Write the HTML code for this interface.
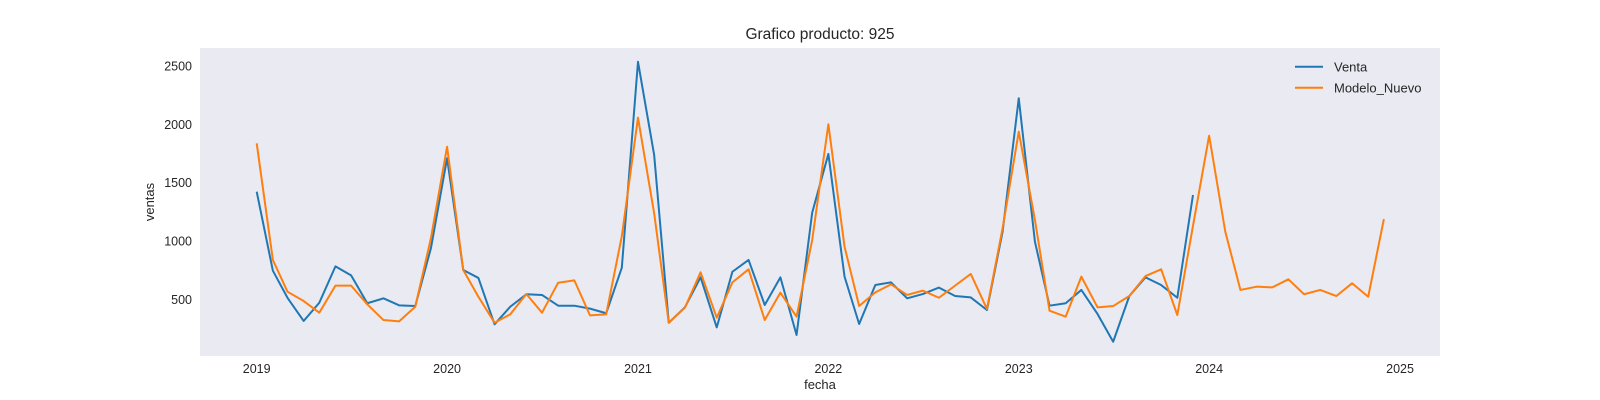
<!DOCTYPE html>
<html><head><meta charset="utf-8"><style>
html,body{margin:0;padding:0;background:#fff;}
svg{display:block;font-family:"Liberation Sans",sans-serif;}
</style></head><body>
<svg id="chart" width="1600" height="400" viewBox="0 0 1600 400">
<rect x="200" y="48" width="1240" height="308" fill="#eaeaf2"/>
<text x="820" y="39" text-anchor="middle" font-size="15.5" fill="#262626">Grafico producto: 925</text>
<text x="820" y="389" text-anchor="middle" font-size="13" fill="#262626">fecha</text>
<text transform="translate(154,202) rotate(-90)" text-anchor="middle" font-size="13" fill="#262626">ventas</text>
<g id="yticks"></g><g id="xticks"></g><g id="series"></g>
<g>
<line x1="1295" y1="66.7" x2="1323" y2="66.7" stroke="#1f77b4" stroke-width="2"/>
<text x="1334" y="71.5" font-size="13" fill="#262626">Venta</text>
<line x1="1295" y1="87.7" x2="1323" y2="87.7" stroke="#ff7f0e" stroke-width="2"/>
<text x="1334" y="92.5" font-size="13" fill="#262626">Modelo_Nuevo</text>
</g>
</svg>
<script>
const ventaValues = [1422,745,513,314,470,782,705,466,508,448,442,937,
1709,751,683,285,436,543,537,445,445,420,380,771,
2536,1737,299,431,688,259,736,837,451,688,194,1243,
1746,694,288,622,645,508,545,600,528,516,408,1079,
2223,993,445,466,580,374,136,528,688,622,513,1394];
const modeloValues = [1837,837,565,485,385,617,617,457,322,311,436,1023,
1808,751,522,299,371,545,385,642,662,362,371,1041,
2057,1237,299,428,731,342,645,757,322,557,351,1008,
2000,951,442,559,628,537,574,513,617,717,417,1108,
1937,1180,402,351,694,431,442,528,699,757,365,1129,
1902,1079,580,608,602,671,543,580,528,637,522,1188];
const startYear = 2019;
const yTickValues = [500,1000,1500,2000,2500];
const xTickYears = [2019,2020,2021,2022,2023,2024,2025];

const NS = "http://www.w3.org/2000/svg";
const t0 = Date.UTC(2019,0,1);
function xScale(year, month){ return 256.7 + (Date.UTC(year, month, 1) - t0)/86400000*0.5216; }
function yScale(v){ return 357.6 - v*0.11665; }
function monthPos(i){ return xScale(startYear + Math.floor(i/12), i%12); }

const yt = document.getElementById('yticks');
yTickValues.forEach(v=>{
  const t = document.createElementNS(NS,'text');
  t.setAttribute('x', 192); t.setAttribute('y', yScale(v)+4.5);
  t.setAttribute('text-anchor','end'); t.setAttribute('font-size','12.5'); t.setAttribute('fill','#262626');
  t.textContent = v;
  
  
  yt.appendChild(t);
});
const xt = document.getElementById('xticks');
xTickYears.forEach(yr=>{
  const t = document.createElementNS(NS,'text');
  t.setAttribute('x', xScale(yr,0)); t.setAttribute('y', 373);
  t.setAttribute('text-anchor','middle'); t.setAttribute('font-size','12.5'); t.setAttribute('fill','#262626');
  t.textContent = yr;
  
  
  xt.appendChild(t);
});
const sg = document.getElementById('series');
function drawLine(vals, color, name){
  const p = document.createElementNS(NS,'polyline');
  p.setAttribute('points', vals.map((v,i)=>monthPos(i).toFixed(2)+','+yScale(v).toFixed(2)).join(' '));
  p.setAttribute('fill','none'); p.setAttribute('stroke',color); p.setAttribute('stroke-width','2');
  p.setAttribute('stroke-linejoin','round');
  
  
  sg.appendChild(p);
}
drawLine(ventaValues, '#1f77b4', 'venta-line');
drawLine(modeloValues, '#ff7f0e', 'modelo-nuevo-line');
</script>
</body></html>
